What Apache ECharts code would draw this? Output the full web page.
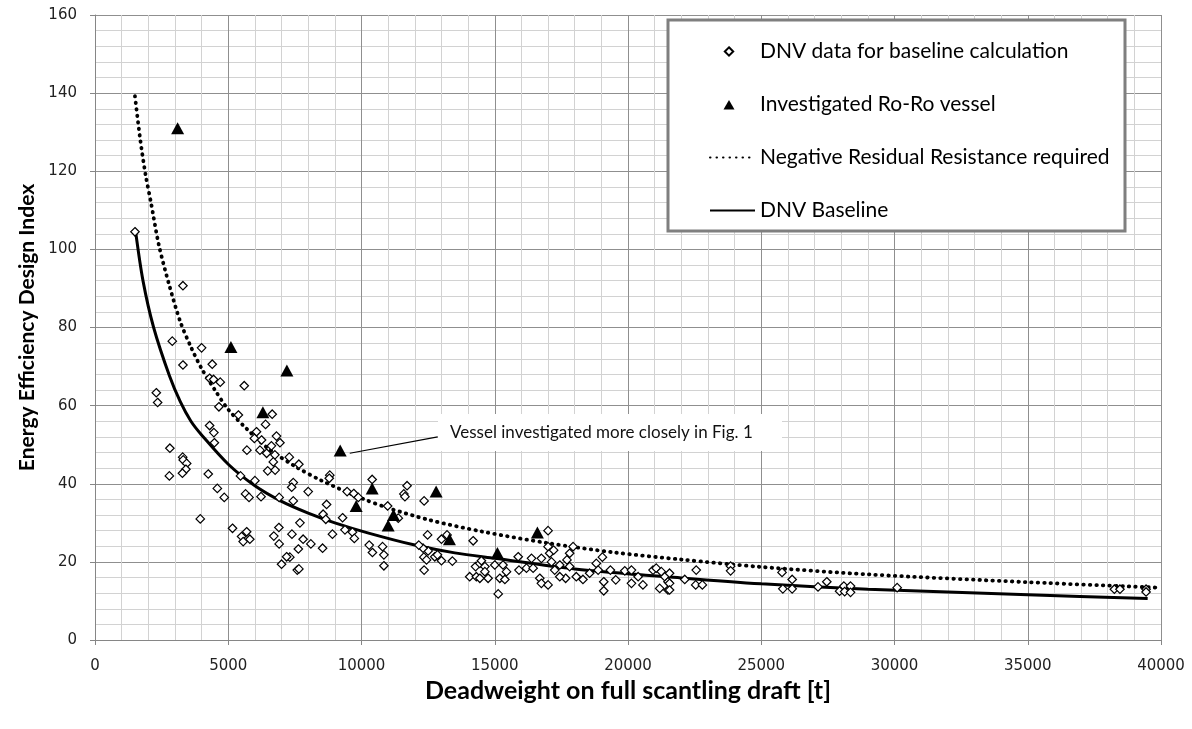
<!DOCTYPE html>
<html>
<head>
<meta charset="utf-8">
<script src="https://cdn.jsdelivr.net/npm/echarts@6/dist/echarts.min.js"></script>
<style>html,body{margin:0;padding:0;background:#fff}#c{width:1192px;height:729px}</style>
</head>
<body>
<div id="c"></div>
<script>
// ---- data ----
const xTicks = [0, 5000, 10000, 15000, 20000, 25000, 30000, 35000, 40000];
const yTicks = [0, 20, 40, 60, 80, 100, 120, 140, 160];

const dnvDwt = [1500,3300,2900,4000,3300,4400,4300,4450,4700,5600,2300,2350,4650,5380,6650,6400,4300,4460,6060,6810,
5980,6940,6250,4480,6620,2810,5700,6190,6440,6750,7290,3290,3310,6690,3440,3410,6480,6760,3280,2790,
4250,7440,7380,5460,6000,4590,4850,5650,5780,6230,6910,7440,7690,3950,5160,5690,5500,5810,5560,6900,
6710,7390,6910,7630,7310,7190,7000,7590,7650,8000,8810,8790,8690,8560,8660,9290,8910,9380,9660,9730,
7810,8100,8540,7650,9460,9710,9880,10400,10980,11380,11590,11710,11630,12350,10290,10410,10790,10840,10840,12480,
12500,12340,12440,12350,12750,12850,13000,13410,13000,13210,14190,14060,14310,14280,14440,14630,14500,12310,12150,15130,
14630,15000,15190,15380,15440,15310,15880,15910,16190,16380,16440,16690,16750,17000,16750,17000,17000,17060,17210,17130,
17250,17440,17710,17660,17440,17810,17940,17810,18060,18310,18560,18810,19040,18880,19090,19090,19540,19340,19880,20130,
20130,20560,20380,20940,21060,21250,21380,21190,21500,21500,21560,14750,14440,21560,21560,22130,22560,22540,22790,23850,
23850,25780,25810,26160,26160,27130,27460,27940,28100,28130,28350,28350,30100,38250,38460,39440,39440];
const dnvEedi = [104.5,90.7,76.5,74.8,70.4,70.6,67,66.7,66,65.1,63.3,60.8,59.7,57.6,57.8,55.2,54.9,53.1,53.3,52.2,
51.6,50.5,51.2,50.5,49.7,49.1,48.6,48.6,47.8,47.4,46.8,46.8,46.1,45.6,45.2,43.7,43.3,43.5,42.7,42,
42.5,40.3,39.1,42,40.8,38.8,36.5,37.4,36.5,36.7,36.5,35.6,30,31,28.6,27.7,26.5,25.8,25.2,28.8,
26.6,27.1,24.6,23.3,21.2,21.3,19.4,17.9,45,38,42.2,41.4,34.7,32.2,30.9,31.3,27.1,28.2,27.6,26,
25.8,24.6,23.5,18.2,38,37.5,36.5,41.1,34.3,31.2,37.4,39.5,36.7,35.6,24.3,22.4,23.9,21.8,19,26.9,
22.8,21.2,20.5,17.9,21.3,21.8,20.3,20.2,25.8,26.9,25.4,16.2,16.2,18.8,19.6,18.8,20.3,23.5,24.3,11.8,
17.5,19.2,15.8,15.5,17.5,19.2,21.3,17.9,18.4,20.9,18.4,15.8,14.5,14.1,20.9,28,23.9,22.2,23,20,
17.9,19.2,20.5,15.8,16.2,22.2,23.9,18.8,16.2,15.5,17.1,19.6,21.2,17.9,14.9,12.6,15.4,17.9,17.7,17.9,
14.5,14.1,16.2,17.9,18.4,17.5,16.2,13.2,12.8,14.9,17.1,15.8,15.8,14.5,12.8,15.5,17.9,14.1,14.1,18.9,
17.7,17.3,13.1,15.5,13.1,13.6,14.9,12.5,13.8,12.4,13.8,12.2,13.4,13,13,13,12.3];

const roroDwt  = [3100, 5100, 7200, 6300, 9200, 10400, 9800, 12800, 11200, 11000, 13300, 15100, 16600];
const roroEedi = [131, 75, 69, 58.3, 48.5, 38.8, 34.3, 38, 32, 29.3, 25.8, 22.3, 27.5];

const baseDwt  = [1525,1800,2200,2800,3200,3600,4000,5000,6000,7000,8000,9000,10300,12000,13500,15000,18000,22000,25000,29000,35000,39500];
const baseEedi = [104.5,92,80,67.5,61,56,52.5,45,39.5,35.5,32.5,30,27.3,24.3,22.3,20.9,18.2,15.9,14.4,13,11.6,10.6];

const negDwt  = [1500,1700,1900,2100,2400,2800,3200,3600,4000,4500,5000,5700,6500,7500,8500,10000,11000,12500,14500,17000,19500,22000,25000,29000,35000,39900];
const negEedi = [139.2,128,119,112,101,90.5,81.5,75,69.5,64,59,54,49,44.5,40.8,36.3,33.8,30.8,27.8,24.8,22.4,20.6,18.7,16.8,14.8,13.4];

const names = ['DNV data for baseline calculation', 'Investigated Ro-Ro vessel', 'Negative Residual Resistance required', 'DNV Baseline'];
const annotationText = 'Vessel investigated more closely in Fig. 1';
const arrowFrom = [12860, 52.0];
const arrowTo = [9560, 47.8];

// ---- chart ----
const zip = (a, b) => a.map((v, i) => [v, b[i]]);
const chart = echarts.init(document.getElementById('c'));
const tickFont = { color: '#222', fontFamily: 'DejaVu Sans', fontSize: 15 };

// legend icons: padded paths so that symbols keep their size inside the 45px icon box
const diamondIcon = 'path://M0,0 M45,10 M19,0.8 L23.2,5 L19,9.2 L14.8,5 Z';
const triangleIcon = 'path://M0,0 M45,10 M19,0.5 L24.5,10 L13.5,10 Z';

chart.setOption({
  animation: false,
  backgroundColor: '#fff',
  grid: { left: 95, right: 31, top: 15, bottom: 89 },
  xAxis: {
    type: 'value', min: xTicks[0], max: xTicks[xTicks.length - 1], interval: xTicks[1] - xTicks[0],
    name: 'Deadweight on full scantling draft [t]', nameLocation: 'middle', nameGap: 36,
    nameTextStyle: { color: '#000', fontFamily: 'Lato', fontWeight: 'bold', fontSize: 25 },
    axisLine: { lineStyle: { color: '#868686', width: 1 } },
    axisTick: { show: true, length: 5, lineStyle: { color: '#868686' } },
    axisLabel: Object.assign({ margin: 19, formatter: v => String(v) }, tickFont),
    splitLine: { show: true, lineStyle: { color: '#8f8f8f', width: 1 } },
    minorTick: { show: false, splitNumber: 5 },
    minorSplitLine: { show: true, lineStyle: { color: '#d2d2d2', width: 1 } }
  },
  yAxis: {
    type: 'value', min: yTicks[0], max: yTicks[yTicks.length - 1], interval: yTicks[1] - yTicks[0],
    name: 'Energy Efficiency Design Index', nameLocation: 'middle', nameGap: 52, nameRotate: 90,
    nameTextStyle: { color: '#000', fontFamily: 'Lato', fontWeight: 'bold', fontSize: 21 },
    axisLine: { show: true, lineStyle: { color: '#868686', width: 1 } },
    axisTick: { show: true, length: 5, lineStyle: { color: '#868686' } },
    axisLabel: Object.assign({ margin: 18, formatter: v => String(v) }, tickFont),
    splitLine: { show: true, lineStyle: { color: '#8f8f8f', width: 1 } },
    minorTick: { show: false, splitNumber: 5 },
    minorSplitLine: { show: true, lineStyle: { color: '#d2d2d2', width: 1 } }
  },
  legend: {
    orient: 'vertical', left: 704, top: 36, z: 20,
    itemWidth: 45, itemHeight: 10, itemGap: 32,
    textStyle: { color: '#000', fontFamily: 'Lato', fontSize: 21, lineHeight: 21 },
    data: [
      { name: names[0], icon: diamondIcon },
      { name: names[1], icon: triangleIcon },
      { name: names[2], itemStyle: { opacity: 0 } },
      { name: names[3], itemStyle: { opacity: 0 } }
    ]
  },
  graphic: [
    { type: 'rect', z: 15, shape: { x: 668, y: 20, width: 457, height: 211 },
      style: { fill: '#fff', stroke: '#7f7f7f', lineWidth: 3 } },
    { type: 'rect', z: 15, shape: { x: 438, y: 414, width: 344, height: 37 },
      style: { fill: '#fff', stroke: null } },
    { type: 'text', z: 16, x: 450, y: 433,
      style: { text: annotationText, fill: '#111', font: '17px Lato', verticalAlign: 'middle' } }
  ],
  series: [
    { name: names[0], type: 'scatter', symbol: 'diamond', symbolSize: 8.5, z: 3,
      itemStyle: { color: '#fff', borderColor: '#000', borderWidth: 1.2, opacity: 1 },
      data: zip(dnvDwt, dnvEedi) },
    { name: names[1], type: 'scatter', symbol: 'triangle', symbolSize: [13, 12], z: 4,
      itemStyle: { color: '#000', opacity: 1 },
      data: zip(roroDwt, roroEedi),
      markLine: {
        silent: true, symbol: ['none', 'arrow'], symbolSize: [0, 10],
        label: { show: false },
        lineStyle: { color: '#000', width: 1.2, type: 'solid', opacity: 1 },
        data: [[{ coord: arrowFrom }, { coord: arrowTo }]]
      } },
    { name: names[2], type: 'line', smooth: 0.3, symbol: 'none', z: 2,
      lineStyle: { color: '#000', width: 3.8, type: [0.5, 6], cap: 'round' },
      itemStyle: { color: '#000' },
      data: zip(negDwt, negEedi) },
    { name: names[3], type: 'line', smooth: 0.3, symbol: 'none', z: 2,
      lineStyle: { color: '#000', width: 3 },
      itemStyle: { color: '#000' },
      data: zip(baseDwt, baseEedi) }
  ]
});
</script>
</body>
</html>
